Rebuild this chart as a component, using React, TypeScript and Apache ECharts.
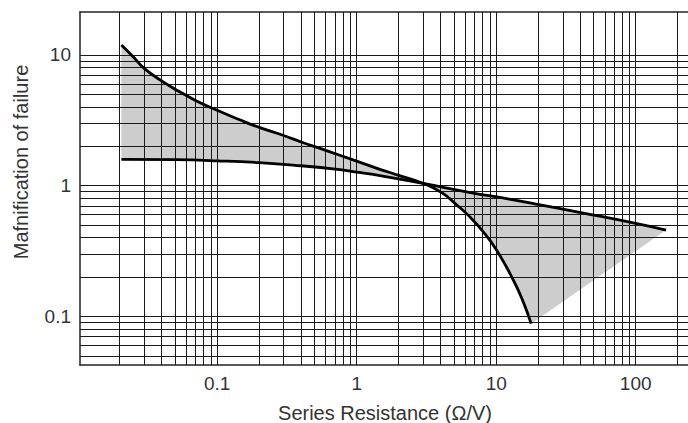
import React, { useEffect, useRef } from "react";
import * as echarts from "echarts";

// Tick labels (log axes)
const xTickValues = [0.1, 1, 10, 100];
const xTickLabels = ["0.1", "1", "10", "100"];
const yTickValues = [0.1, 1, 10];
const yTickLabels = ["0.1", "1", "10"];

// Log grid lines
const xGridValues = [
  0.02, 0.03, 0.04, 0.05, 0.06, 0.07, 0.08, 0.09,
  0.1, 0.2, 0.3, 0.4, 0.5, 0.6, 0.7, 0.8, 0.9,
  1, 2, 3, 4, 5, 6, 7, 8, 9,
  10, 20, 30, 40, 50, 60, 70, 80, 90,
  100, 200,
];
const yGridValues = [
  0.05, 0.06, 0.07, 0.08, 0.09,
  0.1, 0.2, 0.3, 0.4, 0.5, 0.6, 0.7, 0.8, 0.9,
  1, 2, 3, 4, 5, 6, 7, 8, 9,
  10,
];

// Upper (steep) curve
const upperX = [0.0206, 0.025, 0.03, 0.04, 0.05, 0.07, 0.1, 0.145, 0.2, 0.3, 0.4, 0.6, 1.0, 1.45, 2.0, 3.0, 4.1, 5.15, 6.4, 8.0, 10.0, 13.1, 15.5, 17.8];
const upperY = [11.9, 9.67, 7.9, 6.33, 5.47, 4.49, 3.77, 3.19, 2.79, 2.42, 2.16, 1.86, 1.54, 1.34, 1.2, 1.04, 0.88, 0.72, 0.585, 0.45, 0.325, 0.195, 0.132, 0.088];

// Lower (flat) curve
const lowerX = [0.0206, 0.05, 0.1, 0.2, 0.4, 0.7, 1.0, 1.5, 3.0, 6.4, 12.4, 19.3, 39.5, 100, 165];
const lowerY = [1.59, 1.58, 1.55, 1.5, 1.42, 1.34, 1.27, 1.19, 1.04, 0.89, 0.79, 0.724, 0.625, 0.515, 0.458];

const xTitle = "Series Resistance (Ω/V)";
const yTitle = "Mafnification of failure";

const X_MIN = 0.0104;
const X_MAX = 237;
const Y_MIN = 0.0425;
const Y_MAX = 21.3;

const FONT = "'Liberation Sans', Arial, sans-serif";
const TEXT = "#333";
const BORDER = { show: true, lineStyle: { color: "#222", width: 1.5 } };

function pickLabel(values: number[], labels: string[]) {
  return (v: number) => {
    for (let i = 0; i < values.length; i++) {
      if (Math.abs(Math.log10(v) - Math.log10(values[i])) < 1e-6) return labels[i];
    }
    return "";
  };
}

export default function App() {
  const ref = useRef<HTMLDivElement>(null);
  useEffect(() => {
    if (!ref.current) return;
    const chart = echarts.init(ref.current, undefined, { renderer: "svg" });
    const upper = upperX.map((x, i) => [x, upperY[i]]);
    const lower = lowerX.map((x, i) => [x, lowerY[i]]);
    const labelStyle = {
      fontSize: 19,
      fontFamily: FONT,
      color: TEXT,
      margin: 9,
      showMinLabel: false,
      showMaxLabel: false,
    };
    chart.setOption({
      animation: false,
      grid: { left: 80, top: 12, right: 0, bottom: 58, show: false },
      xAxis: [
        {
          type: "log",
          logBase: 10,
          min: X_MIN,
          max: X_MAX,
          position: "bottom",
          axisLine: BORDER,
          axisTick: { show: false },
          splitLine: { show: false },
          axisLabel: { ...labelStyle, formatter: pickLabel(xTickValues, xTickLabels) },
        },
        {
          type: "log",
          logBase: 10,
          min: X_MIN,
          max: X_MAX,
          position: "top",
          axisLine: BORDER,
          axisTick: { show: false },
          splitLine: { show: false },
          axisLabel: { show: false },
        },
      ],
      yAxis: {
        type: "log",
        logBase: 10,
        min: Y_MIN,
        max: Y_MAX,
        axisLine: BORDER,
        axisTick: { show: false },
        splitLine: { show: false },
        axisLabel: { ...labelStyle, formatter: pickLabel(yTickValues, yTickLabels) },
      },
      graphic: [
        {
          type: "text",
          x: 385,
          y: 413,
          style: {
            text: xTitle,
            fontSize: 20,
            fontFamily: FONT,
            fill: TEXT,
            align: "center",
            verticalAlign: "middle",
          },
        },
        {
          type: "text",
          x: 21,
          y: 162,
          rotation: Math.PI / 2,
          style: {
            text: yTitle,
            fontSize: 20,
            fontFamily: FONT,
            fill: TEXT,
            align: "center",
            verticalAlign: "middle",
          },
        },
      ],
      series: [
        {
          type: "custom",
          z: 1,
          silent: true,
          data: [[1, 1]],
          encode: { x: 0, y: 1 },
          renderItem: (_params: any, api: any) => {
            const pts = upper.map((p) => api.coord(p)).concat(
              lower.slice().reverse().map((p) => api.coord(p))
            );
            return {
              type: "polygon",
              shape: { points: pts },
              style: { fill: "#cdcdcd", stroke: "none" },
            };
          },
        },
        {
          type: "line",
          z: 2,
          data: [],
          silent: true,
          markLine: {
            z: 2,
            silent: true,
            symbol: ["none", "none"],
            label: { show: false },
            lineStyle: { color: "#1a1a1a", width: 1, type: "solid" },
            emphasis: { disabled: true },
            data: [
              ...xGridValues.map((v) => ({ xAxis: v })),
              ...yGridValues.map((v) => ({ yAxis: v })),
            ],
          },
        },
        {
          type: "line",
          z: 3,
          data: upper,
          smooth: 0.5,
          symbol: "none",
          silent: true,
          lineStyle: { color: "#000", width: 2.8 },
        },
        {
          type: "line",
          z: 3,
          data: lower,
          smooth: 0.5,
          symbol: "none",
          silent: true,
          lineStyle: { color: "#000", width: 2.8 },
        },
      ],
    });
    return () => chart.dispose();
  }, []);
  return (
    <div
      ref={ref}
      style={{ position: "fixed", left: 0, top: 0, width: 688, height: 423, background: "#fff" }}
    />
  );
}
